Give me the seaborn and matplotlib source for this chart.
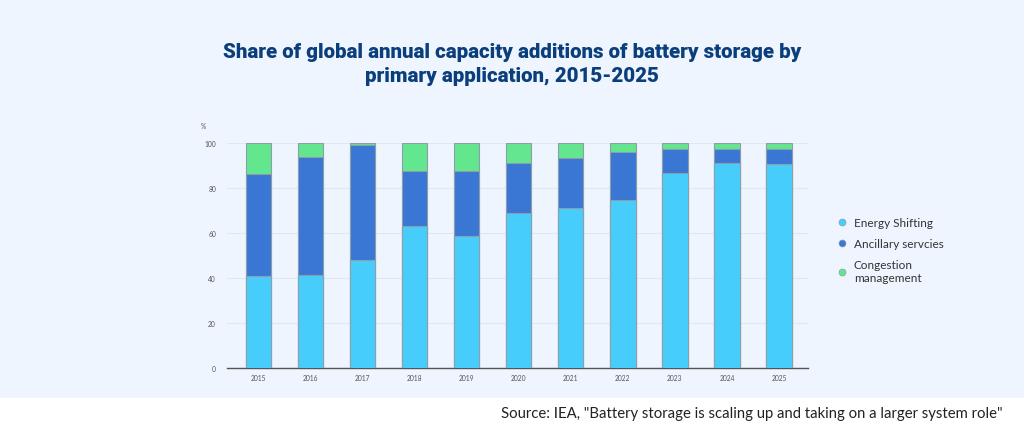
import matplotlib
matplotlib.use('Agg')
import matplotlib.pyplot as plt
import seaborn as sns
import pandas as pd
import numpy as np
from matplotlib.lines import Line2D
from matplotlib.patches import Rectangle

# Datos (%)
years = ['2015', '2016', '2017', '2018', '2019', '2020', '2021', '2022', '2023', '2024', '2025']
energy_shifting = [41.2, 41.5, 48.3, 63.3, 59.0, 68.9, 71.3, 74.8, 86.8, 91.1, 90.7]
ancillary = [45.3, 52.6, 51.0, 24.4, 28.7, 22.2, 22.0, 21.3, 10.5, 6.4, 6.9]
congestion = [13.5, 5.9, 0.7, 12.3, 12.3, 8.9, 6.7, 3.9, 2.7, 2.5, 2.4]

labels = ['Energy Shifting', 'Ancillary servcies', 'Congestion\nmanagement']
colors = ['#46cdfc', '#3a76d4', '#62e78f']

df = pd.DataFrame({'year': years, 'es': energy_shifting, 'an': ancillary, 'co': congestion})
df['cum_an'] = df['es'] + df['an']
df['cum_co'] = df['cum_an'] + df['co']

bg = '#eef5fe'
sns.set_style('white')
plt.rcParams['font.family'] = ['Lato', 'DejaVu Sans']

fig = plt.figure(figsize=(10.24, 4.31), dpi=100, facecolor=bg)
fig.patches.append(Rectangle((0, 0), 1, 0.075, transform=fig.transFigure, color='white', zorder=0))
ax = fig.add_axes([0.2217, 0.1432, 0.567, 0.522])
ax.set_facecolor(bg)

# Barras apiladas (dibujadas por capas acumuladas)
for col, c in zip(['cum_co', 'cum_an', 'es'], colors[::-1]):
    sns.barplot(x='year', y=col, data=df, color=c, width=0.49,
                edgecolor='#8d9eab', linewidth=0.8, saturation=1, ax=ax, zorder=3)

ax.set_ylim(0, 100)
ax.set_xlim(-0.6, 10.55)
ax.set_yticks([0, 20, 40, 60, 80, 100])
ax.grid(axis='y', color='#e1e7ef', linewidth=0.8, zorder=0)
ax.set_axisbelow(True)
for s in ['top', 'right', 'left']:
    ax.spines[s].set_visible(False)
ax.spines['bottom'].set_color('#555555')
ax.spines['bottom'].set_linewidth(1)
ax.tick_params(axis='y', length=0, labelsize=4.8, labelcolor='#555555', pad=8)
ax.tick_params(axis='x', length=0, labelsize=4.8, labelcolor='#555555', pad=4)
ax.set_xlabel('')
ax.set_ylabel('')
ax.text(-0.04, 1.07, '%', transform=ax.transAxes, fontsize=4.8, color='#555555', ha='center')

# Leyenda
handles = [Line2D([0], [0], marker='o', linestyle='', markersize=5, markerfacecolor=c,
                  markeredgecolor='#8d9eab', markeredgewidth=0.5) for c in colors]
fig.legend(handles, labels, loc='upper left', bbox_to_anchor=(0.806, 0.518), frameon=False,
           fontsize=8.5, labelcolor='#333333', handletextpad=0.5, labelspacing=0.85, handlelength=1)

fig.text(0.5, 0.85, 'Share of global annual capacity additions of battery storage by\nprimary application, 2015-2025',
         ha='center', va='center', fontsize=14.8, fontweight='heavy', color='#0b3f7c',
         family=['Roboto', 'DejaVu Sans'], linespacing=1.32)

fig.text(0.979, 0.04, 'Source: IEA, "Battery storage is scaling up and taking on a larger system role"',
         ha='right', va='center', fontsize=10.7, color='#222222')

fig.savefig('out.png', dpi=100, facecolor=fig.get_facecolor())
